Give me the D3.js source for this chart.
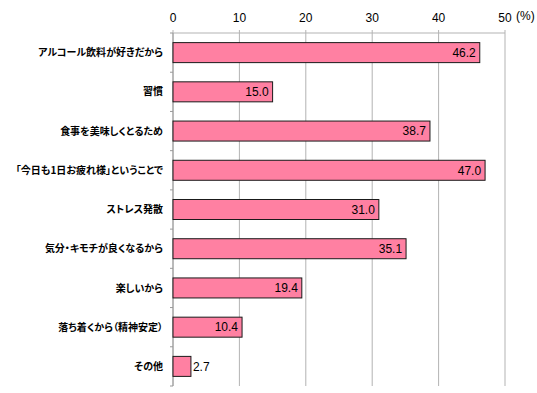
<!DOCTYPE html>
<html>
<head>
<meta charset="utf-8">
<script src="https://cdn.jsdelivr.net/npm/d3@7"></script>
<style>
  body { margin: 0; background: #fff; }
  .cat-label { font-family: "Noto Sans CJK JP", sans-serif; font-weight: bold; font-size: 10px; fill: #000; font-feature-settings: "palt"; }
  .tick-label, .val-label { font-family: "Liberation Sans", Arial, sans-serif; font-size: 12px; fill: #000; }
</style>
</head>
<body>
<div id="chart"></div>
<script>
var categories = [
    "アルコール飲料が好きだから",
    "習慣",
    "食事を美味しくとるため",
    "「今日も1日お疲れ様」ということで",
    "ストレス発散",
    "気分・キモチが良くなるから",
    "楽しいから",
    "落ち着くから（精神安定）",
    "その他"
]
var values = [46.2, 15.0, 38.7, 47.0, 31.0, 35.1, 19.4, 10.4, 2.7]
var xTicks = [0, 10, 20, 30, 40, 50]

var width = 537, height = 393
const margin = {top: 33, left: 173, right: 32, bottom: 7}

var svg = d3.select("#chart")
    .append("svg")
    .attr("width", width)
    .attr("height", height)
    .attr("display", "block")

var xScale = d3.scaleLinear()
    .domain([0, 50])
    .range([margin.left, width - margin.right])

var yScale = d3.scaleBand()
    .domain(categories)
    .range([margin.top, height - margin.bottom])
    .paddingInner(0.49)
    .paddingOuter(0.245)

var yEdge = d3.scaleLinear()
    .domain([0, categories.length])
    .range([margin.top, height - margin.bottom])

// gridlines + top ticks
svg.append("g")
    .selectAll("line")
    .data(xTicks)
    .enter()
    .append("line")
    .attr("x1", function(d) { return xScale(d) })
    .attr("x2", function(d) { return xScale(d) })
    .attr("y1", margin.top - 3)
    .attr("y2", height - margin.bottom)
    .attr("stroke", "#b3b3b3")
    .attr("stroke-width", 1)

// top axis line
svg.append("line")
    .attr("x1", xScale(0))
    .attr("x2", xScale(50))
    .attr("y1", margin.top)
    .attr("y2", margin.top)
    .attr("stroke", "#b3b3b3")

// left axis line and ticks
svg.append("line")
    .attr("x1", xScale(0))
    .attr("x2", xScale(0))
    .attr("y1", margin.top)
    .attr("y2", height - margin.bottom)
    .attr("stroke", "#9a9a9a")
svg.append("g")
    .selectAll("line")
    .data(d3.range(categories.length + 1))
    .enter()
    .append("line")
    .attr("x1", xScale(0) - 3)
    .attr("x2", xScale(0))
    .attr("y1", function(i) { return yEdge(i) })
    .attr("y2", function(i) { return yEdge(i) })
    .attr("stroke", "#9a9a9a")

// tick labels
svg.append("g")
    .selectAll("text")
    .data(xTicks)
    .enter()
    .append("text")
    .attr("class", "tick-label")
    .attr("x", function(d) { return xScale(d) })
    .attr("y", 22)
    .attr("text-anchor", "middle")
    .text(function(d) { return d })
svg.append("text")
    .attr("class", "tick-label")
    .attr("x", xScale(50) + 11)
    .attr("y", 20)
    .text("(%)")

// bars
var bars = svg.append("g")
    .selectAll("g")
    .data(values)
    .enter()
    .append("g")

bars.append("rect")
    .attr("x", xScale(0))
    .attr("y", function(d, i) { return yScale(categories[i]) })
    .attr("width", function(d) { return xScale(d) - xScale(0) })
    .attr("height", yScale.bandwidth())
    .attr("fill", "#ff80a2")
    .attr("stroke", "#1a1a1a")
    .attr("stroke-width", 1)

bars.append("text")
    .attr("class", "val-label")
    .attr("x", function(d) { return d < 5 ? xScale(d) + 2 : xScale(d) - 4 })
    .attr("y", function(d, i) { return yScale(categories[i]) + yScale.bandwidth() / 2 })
    .attr("dy", "0.36em")
    .attr("text-anchor", function(d) { return d < 5 ? "start" : "end" })
    .text(function(d) { return d.toFixed(1) })

// category labels
svg.append("g")
    .selectAll("text")
    .data(categories)
    .enter()
    .append("text")
    .attr("class", "cat-label")
    .attr("x", margin.left - 10)
    .attr("y", function(c) { return yScale(c) + yScale.bandwidth() / 2 })
    .attr("dy", "0.36em")
    .attr("text-anchor", "end")
    .text(function(c) { return c })
</script>
</body>
</html>
